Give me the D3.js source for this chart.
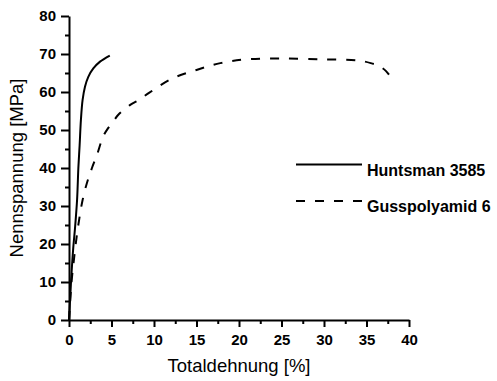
<!DOCTYPE html>
<html>
<head>
<meta charset="utf-8">
<script src="https://cdn.jsdelivr.net/npm/d3@7"></script>
<style>
  body { margin: 0; background: #fff; }
  svg { display: block; font-family: "Liberation Sans", Arial, sans-serif; }
  .tick-label { font-weight: bold; font-size: 15px; fill: #000; }
  .axis-title { font-size: 18.5px; fill: #000; }
  .legend-text { font-weight: bold; font-size: 16px; fill: #000; }
</style>
</head>
<body>
<svg id="chart" width="497" height="381"></svg>
<script>
// Stress-strain curves.
const huntsmanStrain = [0, 0.12, 0.3, 0.5, 0.7, 0.95, 1.1, 1.25, 1.4, 1.6, 1.88, 2.27, 2.86, 3.65, 4.8];
const huntsmanStress = [0, 5, 12.4, 19, 24, 31.6, 40, 46, 52.6, 57.9, 61.4, 64, 66.2, 68, 69.6];

const gussStrain = [0, 0.3, 0.6, 0.9, 1.2, 1.6, 2.1, 2.7, 3.3, 4.0, 4.6, 5.2, 5.8, 7.2, 8.2, 9.5, 12.2, 15, 17.8, 20.9, 25, 30, 34, 35.5, 36.5, 37.3, 38];
const gussStress = [0, 10, 16.3, 21.9, 26.5, 31.6, 36, 40, 43.5, 48.2, 50.5, 52.2, 54, 56.6, 57.9, 59.9, 63.6, 65.8, 67.6, 68.6, 68.8, 68.6, 68.3, 67.6, 66.8, 65.5, 63.4];

const xTicks = [0, 5, 10, 15, 20, 25, 30, 35, 40];
const yTicks = [0, 10, 20, 30, 40, 50, 60, 70, 80];
const legendNames = ["Huntsman 3585", "Gusspolyamid 6"];

const X0 = 69, X1 = 409, Y0 = 320, Y1 = 16;

const svg = d3.select("#chart");
const x = d3.scaleLinear().domain([0, 40]).range([X0, X1]);
const y = d3.scaleLinear().domain([0, 80]).range([Y0, Y1]);

// minor ticks first (no labels)
svg.append("g")
  .attr("transform", `translate(0,${Y0})`)
  .call(d3.axisBottom(x).tickValues(d3.range(2.5, 40, 5)).tickSize(4).tickFormat(""))
  .call(g => g.select(".domain").remove())
  .call(g => g.selectAll("line").attr("stroke", "#000").attr("stroke-width", 2));

svg.append("g")
  .attr("transform", `translate(${X0},0)`)
  .call(d3.axisLeft(y).tickValues(d3.range(5, 80, 10)).tickSize(4).tickFormat(""))
  .call(g => g.select(".domain").remove())
  .call(g => g.selectAll("line").attr("stroke", "#000").attr("stroke-width", 2));

// major axes
const xAxis = svg.append("g")
  .attr("transform", `translate(0,${Y0})`)
  .call(d3.axisBottom(x).tickValues(xTicks).tickSize(7).tickSizeOuter(0).tickPadding(7));
xAxis.selectAll("text").attr("class", "tick-label").attr("font-size", null).attr("font-family", null);

const yAxis = svg.append("g")
  .attr("transform", `translate(${X0},0)`)
  .call(d3.axisLeft(y).tickValues(yTicks).tickSize(8).tickSizeOuter(0).tickPadding(5));
yAxis.selectAll("text").attr("class", "tick-label").attr("font-size", null).attr("font-family", null);

[xAxis, yAxis].forEach(a => {
  a.select(".domain").attr("stroke", "#000").attr("stroke-width", 2);
  a.selectAll("line").attr("stroke", "#000").attr("stroke-width", 2);
});

// curves (centripetal catmull-rom keeps the steep knee smooth)
const line = d3.line()
  .x(d => x(d[0]))
  .y(d => y(d[1]))
  .curve(d3.curveCatmullRom.alpha(0.5));

svg.append("path")
  .datum(gussStrain.map((s, i) => [s, gussStress[i]]))
  .attr("fill", "none")
  .attr("stroke", "#000")
  .attr("stroke-width", 2)
  .attr("stroke-dasharray", "9,10")
  .attr("d", line);

svg.append("path")
  .datum(huntsmanStrain.map((s, i) => [s, huntsmanStress[i]]))
  .attr("fill", "none")
  .attr("stroke", "#000")
  .attr("stroke-width", 2)
  .attr("d", line);

// axis titles
svg.append("text")
  .attr("class", "axis-title")
  .attr("x", 239)
  .attr("y", 372)
  .attr("text-anchor", "middle")
  .text("Totaldehnung [%]");

svg.append("text")
  .attr("class", "axis-title")
  .attr("transform", `translate(23,${(Y0 + Y1) / 2}) rotate(-90)`)
  .attr("text-anchor", "middle")
  .text("Nennspannung [MPa]");

// legend
const legend = svg.append("g").attr("transform", "translate(296,164.5)");
legendNames.forEach((name, i) => {
  const row = legend.append("g").attr("transform", `translate(0,${i * 36.4})`);
  row.append("line")
    .attr("x1", 0).attr("x2", 66)
    .attr("stroke", "#000").attr("stroke-width", 2)
    .attr("stroke-dasharray", i === 1 ? "9,10" : null);
  row.append("text")
    .attr("class", "legend-text")
    .attr("x", 71).attr("y", 11.5)
    .text(name);
});
</script>
</body>
</html>
